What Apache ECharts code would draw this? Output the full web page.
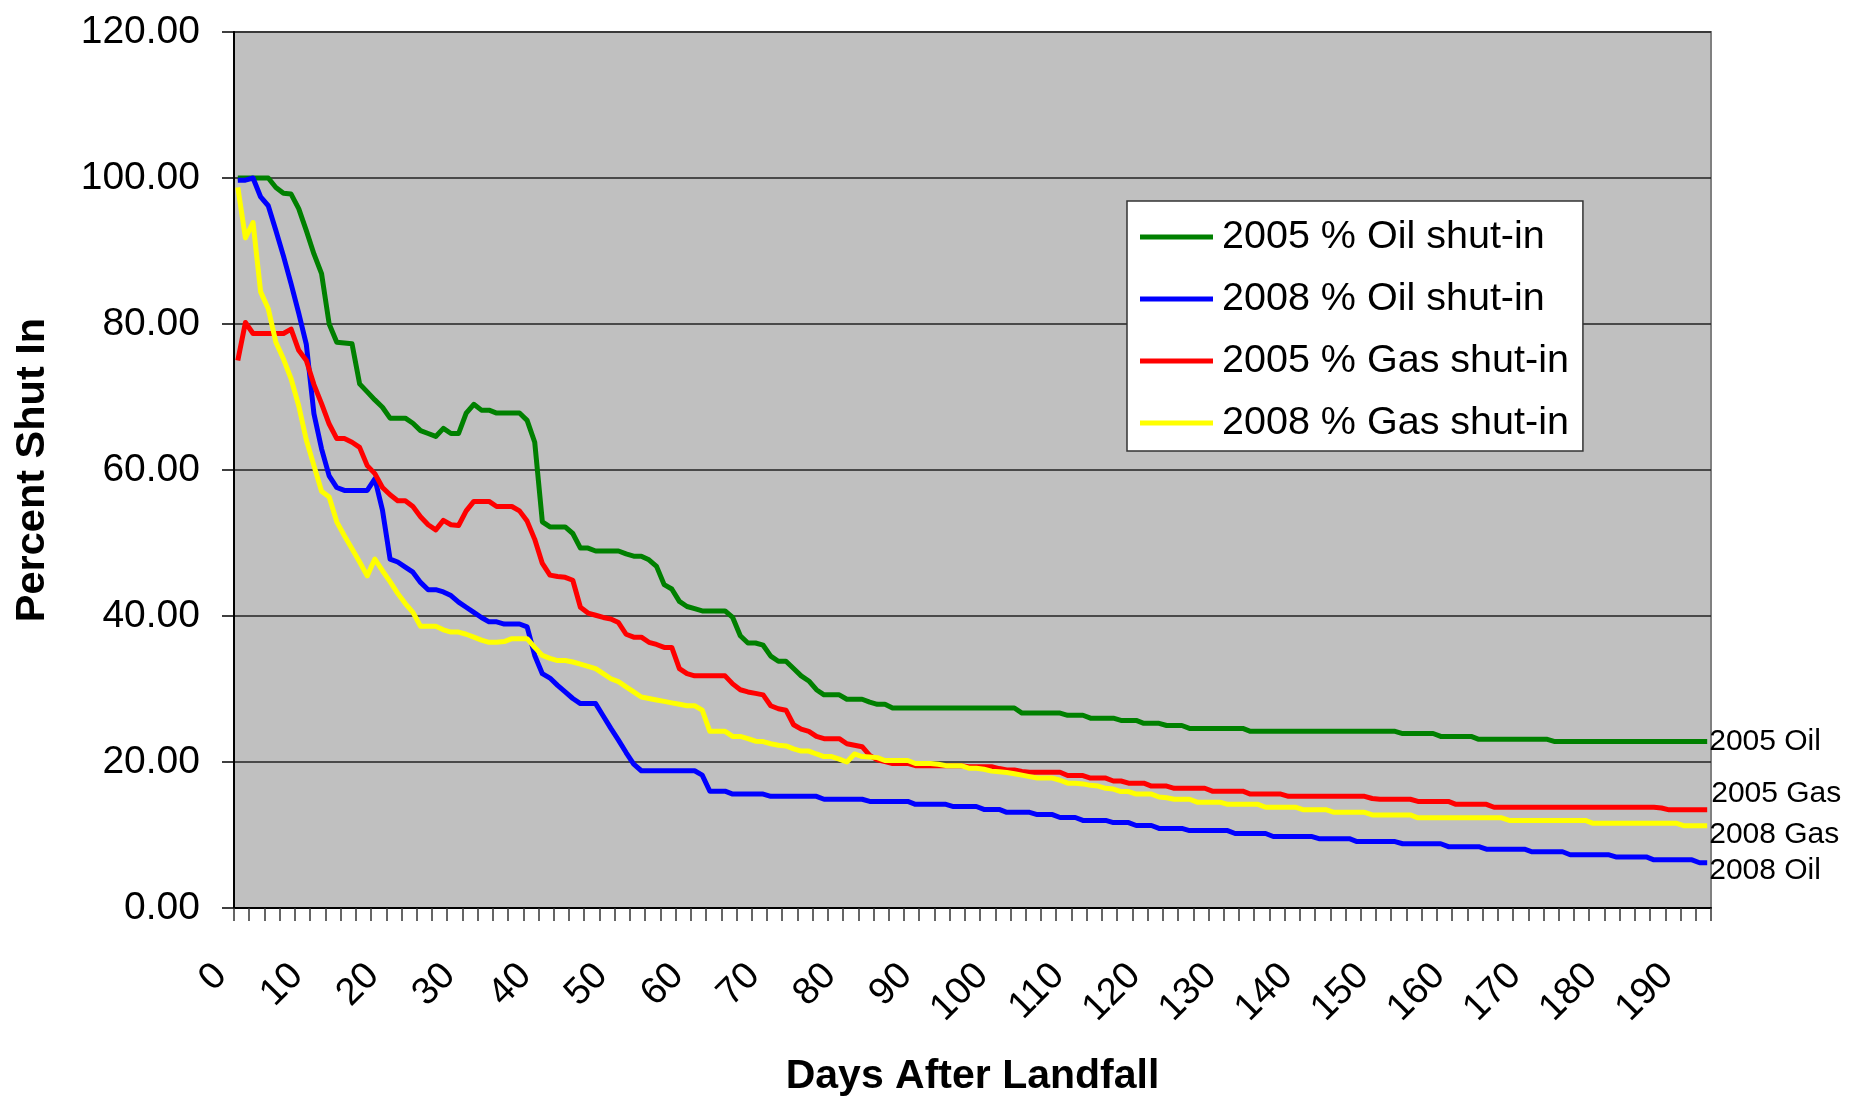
<!DOCTYPE html>
<html>
<head>
<meta charset="utf-8">
<title>Percent Shut In</title>
<script src="https://cdn.jsdelivr.net/npm/echarts@6/dist/echarts.min.js"></script>
<style>
	body { margin : 0; background : #fff; }
	#main { width : 1850px; height : 1096px; }
</style>
</head>
<body>
<div id="main"></div>
<script>
/**
 * 登陆后天数 - 关停百分比
 */
// x 轴: 登陆后第 0 ~ 193 天
var days = [];
for (var d = 0; d < 194; d++) {
	days.push(d);
}

var yTicks = [ 0, 20, 40, 60, 80, 100, 120 ];

// 2005 % Oil shut-in
var oil2005 = [
	100, 100, 100, 100, 100, 98.7, 97.9, 97.8, 95.8, 92.8,
	89.6, 86.9, 80.0, 77.5, 77.4, 77.3, 71.8, 70.7, 69.6, 68.6,
	67.1, 67.1, 67.1, 66.4, 65.4, 65.0, 64.6, 65.7, 65.0, 65.0,
	67.8, 69.0, 68.2, 68.2, 67.8, 67.8, 67.8, 67.8, 66.8, 63.8,
	52.9, 52.2, 52.2, 52.2, 51.3, 49.3, 49.3, 48.9, 48.9, 48.9,
	48.9, 48.5, 48.2, 48.2, 47.7, 46.8, 44.3, 43.7, 42.0, 41.3,
	41.0, 40.7, 40.7, 40.7, 40.7, 39.8, 37.3, 36.3, 36.3, 36.0,
	34.5, 33.8, 33.8, 32.8, 31.8, 31.1, 29.9, 29.2, 29.2, 29.2,
	28.6, 28.6, 28.6, 28.2, 27.9, 27.9, 27.4, 27.4, 27.4, 27.4,
	27.4, 27.4, 27.4, 27.4, 27.4, 27.4, 27.4, 27.4, 27.4, 27.4,
	27.4, 27.4, 27.4, 26.7, 26.7, 26.7, 26.7, 26.7, 26.7, 26.4,
	26.4, 26.4, 26.0, 26.0, 26.0, 26.0, 25.7, 25.7, 25.7, 25.3,
	25.3, 25.3, 25.0, 25.0, 25.0, 24.6, 24.6, 24.6, 24.6, 24.6,
	24.6, 24.6, 24.6, 24.2, 24.2, 24.2, 24.2, 24.2, 24.2, 24.2,
	24.2, 24.2, 24.2, 24.2, 24.2, 24.2, 24.2, 24.2, 24.2, 24.2,
	24.2, 24.2, 24.2, 23.9, 23.9, 23.9, 23.9, 23.9, 23.5, 23.5,
	23.5, 23.5, 23.5, 23.1, 23.1, 23.1, 23.1, 23.1, 23.1, 23.1,
	23.1, 23.1, 23.1, 22.8, 22.8, 22.8, 22.8, 22.8, 22.8, 22.8,
	22.8, 22.8, 22.8, 22.8, 22.8, 22.8, 22.8, 22.8, 22.8, 22.8,
	22.8, 22.8, 22.8, 22.8
];

// 2008 % Oil shut-in
var oil2008 = [
	99.7, 99.7, 100, 97.4, 96.2, 92.8, 89.3, 85.5, 81.5, 77.2,
	67.7, 62.9, 59.2, 57.6, 57.2, 57.2, 57.2, 57.2, 58.8, 54.5,
	47.8, 47.4, 46.7, 46.0, 44.6, 43.6, 43.6, 43.3, 42.8, 41.9,
	41.2, 40.5, 39.8, 39.2, 39.2, 38.9, 38.9, 38.9, 38.5, 34.6,
	32.1, 31.5, 30.5, 29.6, 28.7, 28.0, 28.0, 28.0, 26.3, 24.6,
	23.0, 21.3, 19.7, 18.8, 18.8, 18.8, 18.8, 18.8, 18.8, 18.8,
	18.8, 18.2, 16.0, 16.0, 16.0, 15.6, 15.6, 15.6, 15.6, 15.6,
	15.3, 15.3, 15.3, 15.3, 15.3, 15.3, 15.3, 14.9, 14.9, 14.9,
	14.9, 14.9, 14.9, 14.6, 14.6, 14.6, 14.6, 14.6, 14.6, 14.2,
	14.2, 14.2, 14.2, 14.2, 13.9, 13.9, 13.9, 13.9, 13.5, 13.5,
	13.5, 13.1, 13.1, 13.1, 13.1, 12.8, 12.8, 12.8, 12.4, 12.4,
	12.4, 12.0, 12.0, 12.0, 12.0, 11.7, 11.7, 11.7, 11.3, 11.3,
	11.3, 10.9, 10.9, 10.9, 10.9, 10.6, 10.6, 10.6, 10.6, 10.6,
	10.6, 10.2, 10.2, 10.2, 10.2, 10.2, 9.8, 9.8, 9.8, 9.8,
	9.8, 9.8, 9.5, 9.5, 9.5, 9.5, 9.5, 9.1, 9.1, 9.1,
	9.1, 9.1, 9.1, 8.8, 8.8, 8.8, 8.8, 8.8, 8.8, 8.4,
	8.4, 8.4, 8.4, 8.4, 8.05, 8.05, 8.05, 8.05, 8.05, 8.05,
	7.7, 7.7, 7.7, 7.7, 7.7, 7.3, 7.3, 7.3, 7.3, 7.3,
	7.3, 7.0, 7.0, 7.0, 7.0, 7.0, 6.6, 6.6, 6.6, 6.6,
	6.6, 6.6, 6.2, 6.2
];

// 2005 % Gas shut-in
var gas2005 = [
	75.0, 80.2, 78.7, 78.7, 78.7, 78.7, 78.7, 79.3, 76.4, 75.0,
	71.7, 69.1, 66.3, 64.3, 64.3, 63.8, 63.1, 60.6, 59.5, 57.6,
	56.6, 55.8, 55.8, 55.0, 53.6, 52.5, 51.8, 53.1, 52.5, 52.4,
	54.4, 55.7, 55.7, 55.7, 55.0, 55.0, 55.0, 54.4, 53.0, 50.5,
	47.2, 45.6, 45.4, 45.3, 44.9, 41.2, 40.4, 40.1, 39.8, 39.6,
	39.1, 37.5, 37.1, 37.1, 36.4, 36.1, 35.7, 35.7, 32.8, 32.1,
	31.8, 31.8, 31.8, 31.8, 31.8, 30.7, 29.9, 29.6, 29.4, 29.2,
	27.7, 27.3, 27.1, 25.1, 24.5, 24.2, 23.5, 23.2, 23.2, 23.2,
	22.5, 22.3, 22.1, 20.9, 20.3, 20.05, 19.8, 19.8, 19.8, 19.5,
	19.5, 19.5, 19.5, 19.5, 19.5, 19.5, 19.35, 19.35, 19.35, 19.35,
	19.1, 18.9, 18.9, 18.7, 18.6, 18.6, 18.6, 18.6, 18.6, 18.15,
	18.15, 18.15, 17.8, 17.8, 17.8, 17.4, 17.4, 17.1, 17.1, 17.1,
	16.7, 16.7, 16.7, 16.4, 16.4, 16.4, 16.4, 16.4, 16.0, 16.0,
	16.0, 16.0, 16.0, 15.6, 15.6, 15.6, 15.6, 15.6, 15.3, 15.3,
	15.3, 15.3, 15.3, 15.3, 15.3, 15.3, 15.3, 15.3, 15.3, 15.0,
	14.9, 14.9, 14.9, 14.9, 14.9, 14.6, 14.6, 14.6, 14.6, 14.6,
	14.2, 14.2, 14.2, 14.2, 14.2, 13.8, 13.8, 13.8, 13.8, 13.8,
	13.8, 13.8, 13.8, 13.8, 13.8, 13.8, 13.8, 13.8, 13.8, 13.8,
	13.8, 13.8, 13.8, 13.8, 13.8, 13.8, 13.8, 13.7, 13.45, 13.45,
	13.45, 13.45, 13.45, 13.45
];

// 2008 % Gas shut-in
var gas2008 = [
	98.7, 91.8, 93.9, 84.4, 82.1, 77.5, 75.2, 72.5, 68.8, 64.1,
	60.6, 57.1, 56.3, 52.9, 51.0, 49.2, 47.4, 45.5, 47.8, 46.2,
	44.7, 43.1, 41.7, 40.5, 38.6, 38.6, 38.6, 38.1, 37.8, 37.8,
	37.5, 37.1, 36.7, 36.4, 36.4, 36.5, 36.9, 36.9, 36.9, 35.7,
	34.6, 34.2, 33.9, 33.9, 33.7, 33.4, 33.1, 32.8, 32.1, 31.4,
	31.0, 30.3, 29.6, 28.9, 28.7, 28.5, 28.3, 28.1, 27.9, 27.7,
	27.7, 27.1, 24.2, 24.2, 24.2, 23.5, 23.5, 23.2, 22.85, 22.8,
	22.5, 22.3, 22.2, 21.8, 21.5, 21.5, 21.1, 20.75, 20.75, 20.4,
	20.0, 21.1, 20.75, 20.7, 20.6, 20.2, 20.2, 20.2, 20.2, 19.8,
	19.8, 19.8, 19.7, 19.5, 19.5, 19.5, 19.15, 19.15, 19.0, 18.75,
	18.65, 18.55, 18.4, 18.2, 18.0, 17.8, 17.8, 17.8, 17.5, 17.1,
	17.1, 17.0, 16.8, 16.7, 16.4, 16.3, 15.95, 15.95, 15.6, 15.6,
	15.6, 15.2, 15.1, 14.9, 14.9, 14.9, 14.5, 14.5, 14.5, 14.5,
	14.2, 14.2, 14.2, 14.2, 14.2, 13.8, 13.8, 13.8, 13.8, 13.8,
	13.45, 13.45, 13.45, 13.45, 13.1, 13.1, 13.1, 13.1, 13.1, 12.75,
	12.75, 12.75, 12.75, 12.75, 12.75, 12.35, 12.35, 12.35, 12.35, 12.35,
	12.35, 12.35, 12.35, 12.35, 12.35, 12.35, 12.35, 12.0, 12.0, 12.0,
	12.0, 12.0, 12.0, 12.0, 12.0, 12.0, 12.0, 12.0, 11.6, 11.6,
	11.6, 11.6, 11.6, 11.6, 11.6, 11.6, 11.6, 11.6, 11.6, 11.6,
	11.26, 11.26, 11.26, 11.26
];

var seriesNames = [ '2005 % Oil shut-in', '2008 % Oil shut-in', '2005 % Gas shut-in', '2008 % Gas shut-in' ];
var endNames = [ '2005 Oil', '2008 Oil', '2005 Gas', '2008 Gas' ];

var fontMain = '"Liberation Sans", Arial, sans-serif';

// 线条 + 末端标签
function makeLine(idx, data, color, labelOffset) {
	return {
		name : seriesNames[idx],
		type : 'line',
		data : data,
		symbol : 'none',
		animation : false,
		lineStyle : {
			color : color,
			width : 5,
			join : 'round'
		},
		itemStyle : {
			color : color
		},
		endLabel : {
			show : true,
			formatter : endNames[idx],
			distance : 2,
			offset : labelOffset,
			color : '#000',
			fontFamily : fontMain,
			fontSize : 30
		}
	};
}

var myChart = echarts.init(document.getElementById('main'), null, { renderer : 'canvas' });

var option = {
	backgroundColor : '#fff',
	animation : false,
	grid : {
		left : 234,
		right : 139,
		top : 32,
		bottom : 188,
		containLabel : false,
		outerBoundsMode : 'none',
		show : true,
		backgroundColor : '#c0c0c0',
		borderColor : '#808080',
		borderWidth : 2
	},
	legend : {
		orient : 'vertical',
		left : 1127,
		top : 201,
		data : seriesNames,
		backgroundColor : '#fff',
		borderColor : '#333',
		borderWidth : 1.5,
		padding : [ 16, 14, 8, 13 ],
		itemGap : 22,
		itemWidth : 73,
		itemHeight : 5,
		icon : 'rect',
		textStyle : {
			color : '#000',
			fontFamily : fontMain,
			fontSize : 39.5,
			lineHeight : 40,
			padding : [ 0, 0, 0, 4 ]
		}
	},
	xAxis : {
		type : 'category',
		data : days,
		boundaryGap : true,
		name : 'Days After Landfall',
		nameLocation : 'middle',
		nameGap : 148,
		nameTextStyle : {
			color : '#000',
			fontFamily : fontMain,
			fontWeight : 'bold',
			fontSize : 41
		},
		axisLine : {
			lineStyle : { color : '#000', width : 2 }
		},
		axisTick : {
			show : true,
			interval : 1,
			length : 13,
			lineStyle : { color : '#333', width : 1.5 }
		},
		axisLabel : {
			interval : 9,
			rotate : 45,
			margin : 45,
			padding : [ 0, 24, 0, 0 ],
			color : '#000',
			fontFamily : fontMain,
			fontSize : 38
		},
		splitLine : { show : false }
	},
	yAxis : {
		type : 'value',
		min : yTicks[0],
		max : yTicks[yTicks.length - 1],
		interval : yTicks[1] - yTicks[0],
		name : 'Percent Shut In',
		nameLocation : 'middle',
		nameGap : 180,
		nameTextStyle : {
			color : '#000',
			fontFamily : fontMain,
			fontWeight : 'bold',
			fontSize : 41.5
		},
		axisLine : {
			show : true,
			lineStyle : { color : '#000', width : 2 }
		},
		axisTick : {
			show : true,
			length : 12,
			lineStyle : { color : '#000', width : 1.5 }
		},
		axisLabel : {
			margin : 34,
			color : '#000',
			fontFamily : fontMain,
			fontSize : 39,
			formatter : function(v) {
				return v.toFixed(2);
			}
		},
		splitLine : {
			show : true,
			lineStyle : { color : '#222', width : 1.5 }
		}
	},
	series : [
		makeLine(0, oil2005, '#008000', [ 0, 0 ]),
		makeLine(1, oil2008, '#0000ff', [ 0, 8 ]),
		makeLine(2, gas2005, '#ff0000', [ 2, -16 ]),
		makeLine(3, gas2008, '#ffff00', [ 0, 9 ])
	]
};

myChart.setOption(option);
</script>
</body>
</html>
